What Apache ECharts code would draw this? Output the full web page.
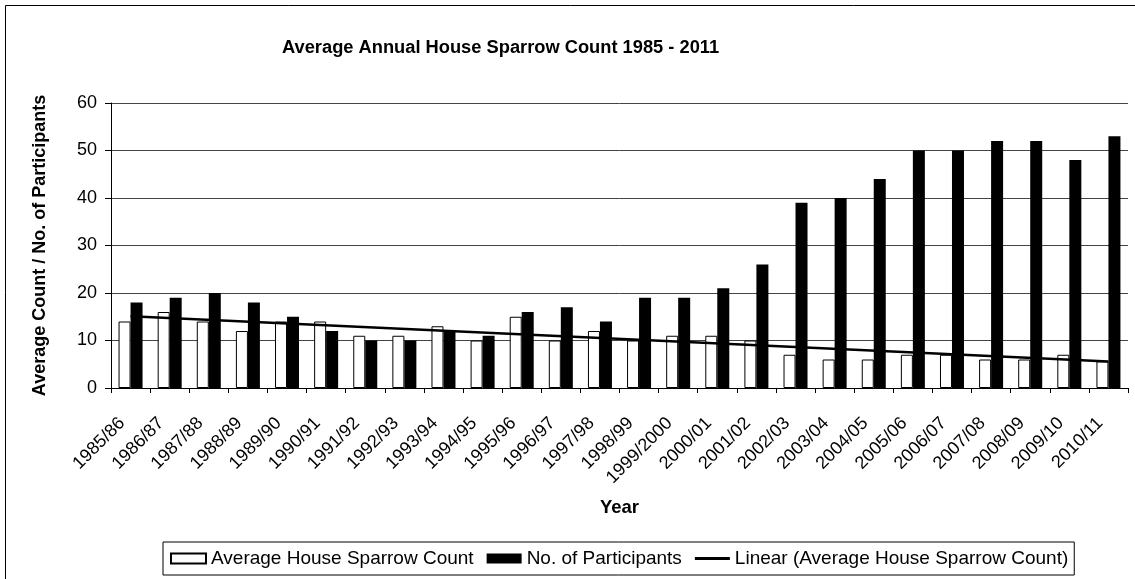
<!DOCTYPE html>
<html>
<head>
<meta charset="utf-8">
<script src="https://cdn.jsdelivr.net/npm/echarts@6/dist/echarts.min.js"></script>
<style>
html, body { margin: 0; padding: 0; background: #fff; }
#main { width: 1135px; height: 579px; }
</style>
</head>
<body>
<div id="main"></div>
<script>
var years = ['1985/86', '1986/87', '1987/88', '1988/89', '1989/90', '1990/91', '1991/92',
  '1992/93', '1993/94', '1994/95', '1995/96', '1996/97', '1997/98', '1998/99', '1999/2000',
  '2000/01', '2001/02', '2002/03', '2003/04', '2004/05', '2005/06', '2006/07', '2007/08',
  '2008/09', '2009/10', '2010/11'];
var avgCount = [14, 16, 14, 12, 14, 14, 11, 11, 13, 10, 15, 10, 12, 10, 11, 11, 10, 7, 6, 6, 7, 7, 6, 6, 7, 5.6];
var participants = [18, 19, 20, 18, 15, 12, 10, 10, 12, 11, 16, 17, 14, 19, 19, 21, 26, 39, 40, 44, 50, 50, 52, 52, 48, 53];
// trendline ends (first and last year)
var trendEnds = [15.1, 5.6];

var trend = years.map(function (y, i) {
  if (i === 0) return trendEnds[0];
  if (i === years.length - 1) return trendEnds[1];
  return null;
});

var font = 'Liberation Sans, Arial, sans-serif';
var myChart = echarts.init(document.getElementById('main'));
var option = {
  animation: false,
  backgroundColor: '#fff',
  textStyle: { fontFamily: font, color: '#000' },
  graphic: [{
    type: 'rect',
    shape: { x: 5.5, y: 5.5, width: 1140, height: 600 },
    style: { fill: null, stroke: '#000', lineWidth: 1 },
    silent: true
  }],
  title: {
    text: 'Average Annual House Sparrow Count 1985 - 2011',
    left: 282,
    top: 39,
    padding: 0,
    textStyle: { fontFamily: font, fontSize: 18.3, fontWeight: 'bold', color: '#000' }
  },
  legend: {
    left: 163,
    top: 542,
    padding: [7, 6, 7, 7],
    itemWidth: 35,
    itemHeight: 10,
    itemGap: 13,
    borderColor: '#000',
    borderWidth: 1,
    textStyle: { fontFamily: font, fontSize: 19, color: '#000' },
    data: [
      { name: 'Average House Sparrow Count', icon: 'rect' },
      { name: 'No. of Participants', icon: 'rect' },
      { name: 'Linear (Average House Sparrow Count)', icon: 'path://M0,0 L35,0 L35,3 L0,3 Z' }
    ]
  },
  grid: { left: 111, right: 7, top: 103, bottom: 191, outerBoundsMode: 'none' },
  xAxis: {
    type: 'category',
    data: years,
    boundaryGap: true,
    name: 'Year',
    nameLocation: 'middle',
    nameGap: 110,
    nameTextStyle: { fontFamily: font, fontSize: 18.5, fontWeight: 'bold', color: '#000' },
    axisLine: { lineStyle: { color: '#000', width: 1 } },
    axisTick: { show: true, length: 5, lineStyle: { color: '#000' } },
    axisLabel: {
      interval: 0, rotate: 45, fontSize: 18, color: '#000', fontFamily: font,
      margin: 24, padding: [0, 12, 0, 0]
    }
  },
  yAxis: {
    type: 'value',
    min: 0,
    max: 60,
    interval: 10,
    name: 'Average Count / No. of Participants',
    nameLocation: 'middle',
    nameGap: 62,
    nameTextStyle: { fontFamily: font, fontSize: 18, fontWeight: 'bold', color: '#000' },
    axisLine: { show: true, lineStyle: { color: '#000', width: 1 } },
    axisTick: { show: true, length: 6, lineStyle: { color: '#000' } },
    axisLabel: { fontSize: 18, color: '#000', margin: 14, fontFamily: font },
    splitLine: { lineStyle: { color: '#444', width: 1 } }
  },
  series: [
    {
      name: 'Average House Sparrow Count',
      type: 'bar',
      data: avgCount,
      barWidth: 12,
      barGap: '0%',
      itemStyle: { color: '#fff', borderColor: '#000', borderWidth: 1 }
    },
    {
      name: 'No. of Participants',
      type: 'bar',
      data: participants,
      barWidth: 12,
      barGap: '0%',
      itemStyle: { color: '#000' }
    },
    {
      name: 'Linear (Average House Sparrow Count)',
      type: 'line',
      data: trend,
      connectNulls: true,
      symbol: 'none',
      z: 5,
      itemStyle: { color: '#000' },
      lineStyle: { color: '#000', width: 2.5 }
    }
  ]
};

myChart.setOption(option);
</script>
</body>
</html>
